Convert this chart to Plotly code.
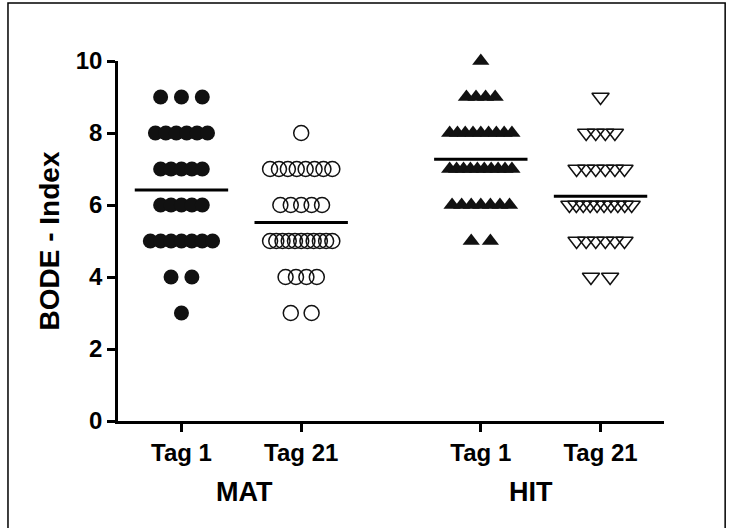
import plotly.graph_objects as go

# ---- data ----
categories = ["Tag 1", "Tag 21", "Tag 1", "Tag 21"]
groups = ["MAT", "HIT"]
mat_tag1 = [9]*3 + [8]*6 + [7]*5 + [6]*5 + [5]*7 + [4]*2 + [3]*1
mat_tag21 = [8]*1 + [7]*8 + [6]*5 + [5]*11 + [4]*4 + [3]*2
hit_tag1 = [10]*1 + [9]*4 + [8]*9 + [7]*10 + [6]*7 + [5]*2
hit_tag21 = [9]*1 + [8]*4 + [7]*6 + [6]*10 + [5]*6 + [4]*2
y_ticks = [0, 2, 4, 6, 8, 10]

series = [mat_tag1, mat_tag21, hit_tag1, hit_tag21]
positions = [1, 2, 3.5, 4.5]
group_label_x = [1.53, 3.92]
symbols = ["circle", "circle-open", "triangle-up", "triangle-down-open"]
steps = [0.087, 0.087, 0.08, 0.08]
max_span = 0.52

def swarm(values, center, step):
    xs, ys = [], []
    uniq = sorted(set(values), reverse=True)
    for v in uniq:
        n = values.count(v)
        s = step * 2 if n <= 3 else step
        if n > 1:
            s = min(s, max_span / (n - 1))
        for i in range(n):
            xs.append(center + (i - (n - 1) / 2) * s)
            ys.append(v)
    return xs, ys

fig = go.Figure()
for vals, pos, sym, st in zip(series, positions, symbols, steps):
    xs, ys = swarm(vals, pos, st)
    is_open = sym.endswith("open")
    fig.add_trace(go.Scatter(
        x=xs, y=ys, mode="markers", cliponaxis=False,
        marker=dict(symbol=sym, size=15,
                    color="#111111",
                    line=dict(width=1.5 if is_open else 0, color="#222222")),
        showlegend=False, hoverinfo="skip"))
    m = sum(vals) / len(vals)
    fig.add_trace(go.Scatter(
        x=[pos - 0.39, pos + 0.39], y=[m, m], mode="lines",
        line=dict(color="black", width=3), showlegend=False, hoverinfo="skip"))

fig.update_layout(
    width=729, height=528,
    margin=dict(l=118, r=65, t=61, b=107),
    paper_bgcolor="white", plot_bgcolor="white",
    font=dict(family="Liberation Sans, Arial, sans-serif", color="black"),
    xaxis=dict(range=[0.47, 5.03], tickvals=positions, ticktext=categories,
               showline=True, linecolor="black", linewidth=2.5,
               ticks="outside", ticklen=8, tickwidth=2.5, tickcolor="black",
               showgrid=False, zeroline=False,
               tickfont=dict(size=24, weight="bold", color="black")),
    yaxis=dict(range=[0, 10], tickvals=y_ticks,
               showline=True, linecolor="black", linewidth=2.5,
               ticks="outside", ticklen=8, tickwidth=2.5, tickcolor="black",
               showgrid=False, zeroline=False,
               tickfont=dict(size=24, weight="bold", color="black"),
               title=dict(text="BODE - Index", standoff=8,
                          font=dict(size=28, weight="bold", color="black"))),
)

for g, x in zip(groups, group_label_x):
    fig.add_annotation(x=x, y=-0.197, xref="x", yref="paper", text=g,
                       showarrow=False, yanchor="middle",
                       font=dict(size=27, weight="bold", color="black"))

fig.add_shape(type="rect", xref="paper", yref="paper",
              x0=-0.2015, x1=1.112, y0=-0.31, y1=1.161,
              line=dict(color="black", width=1.5), fillcolor="rgba(0,0,0,0)")

fig.write_html("out.html")
